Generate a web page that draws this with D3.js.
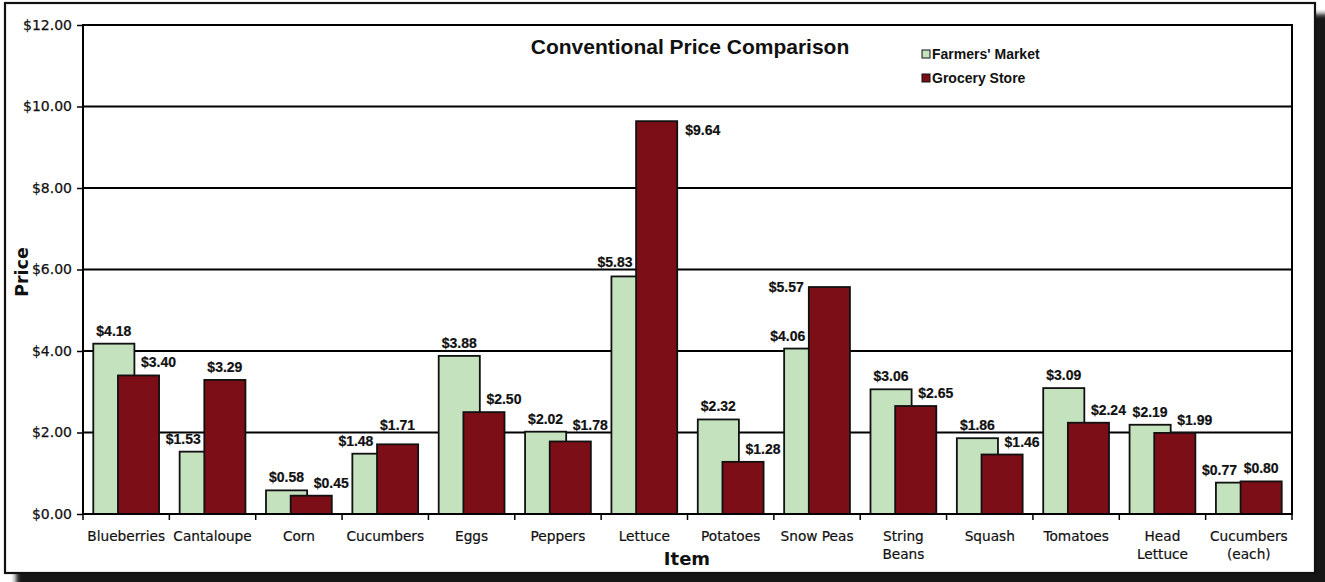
<!DOCTYPE html>
<html>
<head>
<meta charset="utf-8">
<script src="https://cdn.jsdelivr.net/npm/d3@7/dist/d3.min.js"></script>
<style>
  html, body { margin: 0; padding: 0; background: #ffffff; }
  svg { display: block; }
</style>
</head>
<body>
<svg id="chart" width="1325" height="582"></svg>
<script>
// ---- data ----
const categories = ["Blueberries", "Cantaloupe", "Corn", "Cucumbers", "Eggs", "Peppers", "Lettuce",
  "Potatoes", "Snow Peas", "String Beans", "Squash", "Tomatoes", "Head Lettuce", "Cucumbers (each)"];
const categoryLines = [["Blueberries"], ["Cantaloupe"], ["Corn"], ["Cucumbers"], ["Eggs"], ["Peppers"], ["Lettuce"],
  ["Potatoes"], ["Snow Peas"], ["String", "Beans"], ["Squash"], ["Tomatoes"], ["Head", "Lettuce"], ["Cucumbers", "(each)"]];
const farmersMarket = [4.18, 1.53, 0.58, 1.48, 3.88, 2.02, 5.83, 2.32, 4.06, 3.06, 1.86, 3.09, 2.19, 0.77];
const groceryStore  = [3.40, 3.29, 0.45, 1.71, 2.50, 1.78, 9.64, 1.28, 5.57, 2.65, 1.46, 2.24, 1.99, 0.80];
const seriesNames = ["Farmers' Market", "Grocery Store"];
const yTicks = [0, 2, 4, 6, 8, 10, 12];

const colors = ["#c4e2be", "#7b0e16"];

const svg = d3.select("#chart");

// ---- frame with shadow ----
const defs = svg.append("defs");
const f = defs.append("filter").attr("id", "sh").attr("x", "-5%").attr("y", "-5%").attr("width", "110%").attr("height", "110%");
f.append("feGaussianBlur").attr("stdDeviation", 2.5);
svg.append("rect").attr("x", 16).attr("y", 14).attr("width", 1320).attr("height", 580)
  .attr("fill", "#161616").attr("filter", "url(#sh)");
svg.append("rect").attr("x", 5).attr("y", 3).attr("width", 1310).attr("height", 570)
  .attr("fill", "#ffffff").attr("stroke", "#111").attr("stroke-width", 2.2);

// ---- plot area ----
const plot = { left: 83, right: 1292, top: 25, bottom: 514 };

const x = d3.scaleBand().domain(categories).range([plot.left, plot.right]).paddingInner(0).paddingOuter(0);
const y = d3.scaleLinear().domain([0, 12]).range([plot.bottom, plot.top]);

const band = x.bandwidth();
const overlap = 0.4, gapW = 0.5;
const barW = band / (2 - overlap + gapW);
const pad = gapW * barW / 2;
const step = barW * (1 - overlap);

const gridVals = yTicks.filter(t => t > 0 && t < 12);

// gridlines
svg.append("g").selectAll("line").data(gridVals).join("line")
  .attr("x1", plot.left).attr("x2", plot.right)
  .attr("y1", d => y(d)).attr("y2", d => y(d))
  .attr("stroke", "#000").attr("stroke-width", 2);

// y axis
const yAxis = d3.axisLeft(y).tickValues(yTicks).tickSize(6).tickPadding(5)
  .tickFormat(d => "$" + d.toFixed(2));
const yg = svg.append("g").attr("transform", `translate(${plot.left},0)`).call(yAxis);
yg.select(".domain").remove();
yg.selectAll("line").attr("stroke", "#000").attr("stroke-width", 1.5);
yg.selectAll("text").attr("font-family", "DejaVu Sans").attr("font-size", "14px").attr("fill", "#111")
  .attr("stroke", "#111").attr("stroke-width", 0.25);

// x axis ticks (category boundaries)
const bounds = categories.map(c => x(c)).concat([plot.right]);
svg.append("g").selectAll("line").data(bounds).join("line")
  .attr("x1", d => d).attr("x2", d => d)
  .attr("y1", plot.bottom).attr("y2", plot.bottom + 6)
  .attr("stroke", "#000").attr("stroke-width", 1.5);

// category labels
const catG = svg.append("g").attr("font-family", "DejaVu Sans").attr("font-size", "13.7px").attr("fill", "#111")
  .attr("stroke", "#111").attr("stroke-width", 0.2).attr("text-anchor", "middle");
categories.forEach((c, i) => {
  const t = catG.append("text").attr("x", x(c) + band / 2).attr("y", 541);
  categoryLines[i].forEach((ln, j) => {
    t.append("tspan").attr("x", x(c) + band / 2).attr("dy", j === 0 ? 0 : 18).text(ln);
  });
});

// bars
const rows = categories.map((c, i) => ({ c, g: farmersMarket[i], r: groceryStore[i] }));
const barsG = svg.append("g");
barsG.selectAll("rect.fm").data(rows).join("rect").attr("class", "fm")
  .attr("x", d => x(d.c) + pad).attr("width", barW)
  .attr("y", d => y(d.g)).attr("height", d => y(0) - y(d.g))
  .attr("fill", colors[0]).attr("stroke", "#111").attr("stroke-width", 1.8);
barsG.selectAll("rect.gs").data(rows).join("rect").attr("class", "gs")
  .attr("x", d => x(d.c) + pad + step).attr("width", barW)
  .attr("y", d => y(d.r)).attr("height", d => y(0) - y(d.r))
  .attr("fill", colors[1]).attr("stroke", "#111").attr("stroke-width", 1.8);

// plot border
svg.append("rect").attr("x", plot.left).attr("y", plot.top)
  .attr("width", plot.right - plot.left).attr("height", plot.bottom - plot.top)
  .attr("fill", "none").attr("stroke", "#000").attr("stroke-width", 2);

// value labels: keep them clear of gridlines
function clearBaseline(b) {
  for (const gv of gridVals) {
    const gy = y(gv);
    if (gy > b - 10.5 && gy < b + 2) return gy - 3;
  }
  return b;
}
const besideLabels = { "Lettuce": "right", "Snow Peas": "left" };
const lblG = svg.append("g").attr("font-family", "Liberation Sans, Arial").attr("font-weight", "bold")
  .attr("font-size", "14px").attr("fill", "#111").attr("stroke", "#111").attr("stroke-width", 0.2);
const fmt = v => "$" + v.toFixed(2);
rows.forEach(d => {
  const gx = x(d.c) + pad, rx = gx + step;
  lblG.append("text").attr("text-anchor", "middle")
    .attr("x", gx + barW / 2 + (d.r > d.g ? -17 : 0))
    .attr("y", clearBaseline(y(d.g) - 8)).text(fmt(d.g));
  const side = besideLabels[d.c];
  if (side === "right") {
    lblG.append("text").attr("text-anchor", "start").attr("x", rx + barW + 8).attr("y", y(d.r) + 14).text(fmt(d.r));
  } else if (side === "left") {
    lblG.append("text").attr("text-anchor", "end").attr("x", rx - 5).attr("y", y(d.r) + 5).text(fmt(d.r));
  } else {
    lblG.append("text").attr("text-anchor", "middle")
      .attr("x", rx + barW / 2 + (d.g > d.r ? 20 : 0))
      .attr("y", clearBaseline(y(d.r) - 8)).text(fmt(d.r));
  }
});

// title
svg.append("text").attr("x", 690).attr("y", 54).attr("text-anchor", "middle")
  .attr("font-family", "Liberation Sans, Arial").attr("font-weight", "bold").attr("font-size", "21px")
  .attr("fill", "#111").text("Conventional Price Comparison");

// legend
const leg = svg.append("g").attr("font-family", "Liberation Sans, Arial").attr("font-weight", "bold")
  .attr("font-size", "14px").attr("fill", "#111");
seriesNames.forEach((s, i) => {
  const ly = 54 + i * 24;
  leg.append("rect").attr("x", 922).attr("y", ly - 4).attr("width", 8).attr("height", 8)
    .attr("fill", colors[i]).attr("stroke", "#111").attr("stroke-width", 1);
  leg.append("text").attr("x", 932).attr("y", ly + 5).text(s);
});

// axis titles
svg.append("text").attr("transform", "translate(28,272) rotate(-90)").attr("text-anchor", "middle")
  .attr("font-family", "DejaVu Sans").attr("font-weight", "bold").attr("font-size", "17.5px")
  .attr("fill", "#111").text("Price");
svg.append("text").attr("x", 687).attr("y", 565).attr("text-anchor", "middle")
  .attr("font-family", "DejaVu Sans").attr("font-weight", "bold").attr("font-size", "18px")
  .attr("fill", "#111").text("Item");
</script>
</body>
</html>
